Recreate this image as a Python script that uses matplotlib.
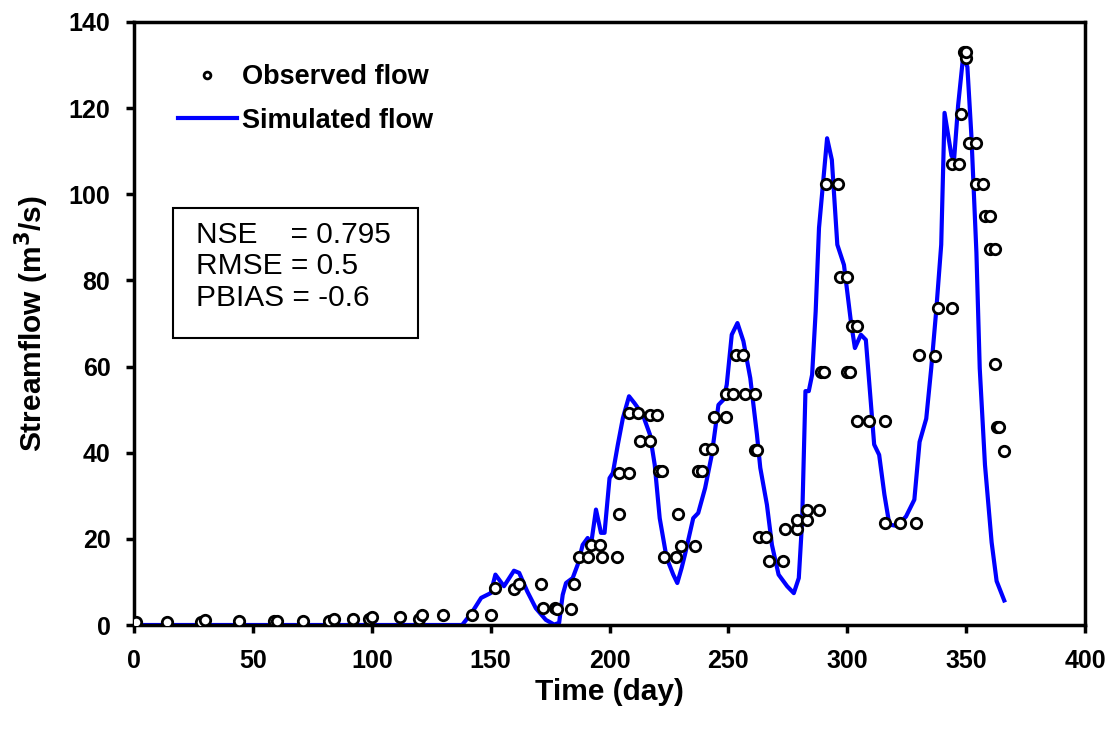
import matplotlib
matplotlib.use('Agg')
import matplotlib.pyplot as plt
from matplotlib.patches import Rectangle

# observed flow (day, m3/s)
obs_day = [1, 14, 28, 30, 44, 59, 60, 71, 82, 84, 92, 99, 100, 112, 120, 121,
           130, 142, 150, 152, 160, 162, 171, 172, 177, 178, 184, 185, 187,
           191, 192, 196, 197, 203, 204, 204, 208, 208, 212, 213, 217, 217,
           220, 221, 222, 223, 228, 229, 230, 236, 237, 239, 240, 243, 244,
           249, 249, 252, 253, 256, 257, 261, 261, 262, 263, 266, 267, 273,
           274, 279, 279, 283, 283, 288, 289, 290, 291, 296, 297, 300, 300,
           301, 302, 304, 304, 309, 316, 316, 322, 329, 330, 337, 338, 344,
           344, 347, 348, 349, 350, 350, 351, 354, 354, 357, 358, 360, 360,
           362, 362, 363, 364, 366]
obs_flow = [0.7, 0.7, 0.7, 1.1, 1.0, 1.0, 1.0, 1.0, 1.0, 1.5, 1.4, 1.3, 1.9,
            1.9, 1.5, 2.3, 2.3, 2.3, 2.3, 8.6, 8.4, 9.5, 9.5, 3.9, 3.9, 3.7,
            3.7, 9.5, 15.7, 15.7, 18.6, 18.6, 15.7, 15.7, 25.8, 35.4, 35.4,
            49.3, 49.3, 42.8, 42.8, 48.7, 48.7, 35.8, 35.8, 15.9, 15.9, 25.8,
            18.4, 18.3, 35.8, 35.8, 40.9, 40.9, 48.3, 48.3, 53.7, 53.7, 62.6,
            62.6, 53.7, 53.7, 40.6, 40.6, 20.4, 20.4, 14.9, 14.9, 22.3, 22.3,
            24.3, 24.3, 26.8, 26.8, 58.7, 58.7, 102.3, 102.3, 80.7, 80.7,
            58.7, 58.7, 69.5, 69.5, 47.4, 47.4, 47.4, 23.7, 23.7, 23.7, 62.6,
            62.5, 73.7, 73.7, 107.0, 107.0, 118.7, 133.0, 131.6, 133.0, 112.0,
            112.0, 102.4, 102.4, 95.0, 95.0, 87.4, 87.4, 60.7, 46.0, 46.0, 40.5]
obs_day = obs_day[:len(obs_flow)]

# simulated flow (day, m3/s)
sim_day = [0, 138, 142, 146, 150, 152, 155.6, 159.8, 162, 165.4, 169, 173.2,
           176.7, 178.8, 180.3, 181.7, 184.5, 186.6, 188.7, 190.8, 192.2,
           194.3, 196.4, 197.9, 200, 201.4, 203.5, 205.6, 208.2, 210.5, 214,
           217, 219, 221.1, 224, 226.8, 228.5, 230.3, 231.7, 235.2, 237.3,
           240.2, 243, 245.8, 247.9, 249.3, 251.4, 253.8, 256.3, 259.2, 262,
           263.4, 266.2, 268.3, 271.1, 274.7, 277.5, 279.6, 281, 282.4, 283.8,
           285.2, 286.7, 288.1, 291.5, 293.5, 295.8, 298.6, 301.5, 303.2,
           305.7, 307.8, 311.3, 313.4, 315.6, 317.7, 321, 324.7, 328.2, 330.4,
           333.2, 335.3, 337.4, 339.5, 340.9, 343.8, 344.9, 346.6, 348.7,
           350.5, 352.2, 354.3, 355.7, 357.9, 360.7, 362.8, 366]
sim_flow = [0, 0, 2.8, 6.3, 7.4, 11.7, 9.0, 12.6, 12.1, 7.8, 3.9, 1.2, 0.1,
            0.5, 7.0, 9.75, 10.9, 14.0, 18.6, 20.2, 18.6, 26.8, 21.4, 21.4,
            34.1, 35.3, 41.9, 48.0, 53.1, 51.5, 48.8, 44.2, 37.2, 24.8, 15.6,
            11.7, 9.75, 13.2, 16.3, 24.8, 26.0, 31.8, 39.5, 51.1, 52.3, 55.8,
            67.4, 70.1, 65.9, 57.3, 44.2, 36.5, 27.9, 18.6, 11.7, 9.0, 7.4,
            10.9, 24.1, 54.3, 54.3, 58.1, 72.8, 92.2, 113.0, 108.0, 88.3,
            83.6, 70.5, 64.3, 67.4, 66.2, 41.9, 39.5, 30.3, 23.3, 23.0, 25.2,
            29.1, 42.5, 47.9, 59.6, 73.0, 88.3, 118.9, 109.0, 108.0, 120.6,
            131.9, 129.6, 113.5, 86.5, 59.6, 37.2, 19.2, 10.2, 5.7]

x_ticks = [0, 50, 100, 150, 200, 250, 300, 350, 400]
y_ticks = [0, 20, 40, 60, 80, 100, 120, 140]
stats_text = 'NSE    = 0.795\nRMSE = 0.5\nPBIAS = -0.6'

plt.rcParams['font.family'] = ['Liberation Sans', 'DejaVu Sans']

fig = plt.figure(figsize=(11.13, 7.4), dpi=100)
ax = fig.add_axes([0.1204, 0.1554, 0.8545, 0.8149])

ax.plot(sim_day, sim_flow, color='#0000ff', lw=3.0, label='Simulated flow',
        zorder=2, solid_joinstyle='round')
ax.plot(obs_day, obs_flow, linestyle='none', marker='o', ms=7.5,
        mfc='white', mec='black', mew=2.0, label='Observed flow', zorder=3)

ax.set_xlim(0, 400)
ax.set_ylim(0, 140)
ax.set_xticks(x_ticks)
ax.set_yticks(y_ticks)
ax.tick_params(axis='both', direction='out', length=6, width=2.5,
               labelsize=18)
ax.tick_params(axis='y', pad=11)
ax.tick_params(axis='x', pad=11)
for lab in ax.get_xticklabels() + ax.get_yticklabels():
    lab.set_fontweight('bold')
for sp in ax.spines.values():
    sp.set_linewidth(2.5)

ax.set_xlabel('Time (day)', fontsize=21.5, fontweight='bold', labelpad=4)
ax.set_ylabel('Streamflow (m$\\mathbf{^3}$/s)', fontsize=21.5,
              fontweight='bold', labelpad=13)

# legend: observed first, simulated second
h, l = ax.get_legend_handles_labels()
ax.legend(h[::-1], l[::-1], loc='upper left', bbox_to_anchor=(0.0463, 0.93),
          frameon=False, prop={'size': 19.5, 'weight': 'bold'},
          borderpad=0, borderaxespad=0, handlelength=2.16,
          handletextpad=0.2, labelspacing=0.65, markerscale=0.65)

# statistics box
ax.add_patch(Rectangle((0.041, 0.476), 0.2576, 0.2155, transform=ax.transAxes,
                       fc='white', ec='black', lw=1.5, zorder=4))
ax.text(0.0652, 0.670, stats_text, transform=ax.transAxes, fontsize=21.5,
        va='top', ha='left', linespacing=1.15, zorder=5)

fig.savefig('out.png', dpi=100)
